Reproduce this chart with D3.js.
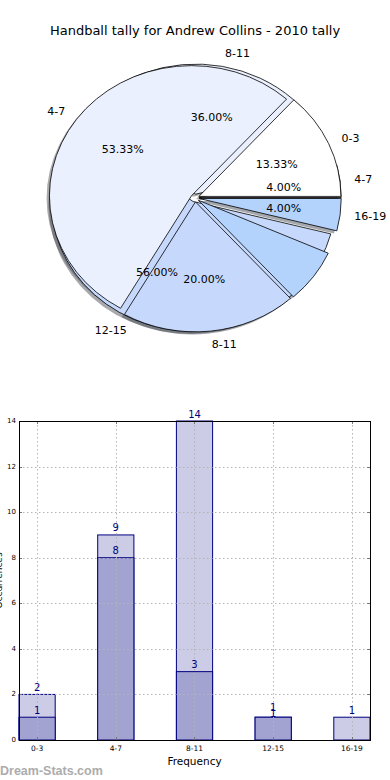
<!DOCTYPE html>
<html>
<head>
<meta charset="utf-8">
<script src="https://cdn.jsdelivr.net/npm/d3@7"></script>
<style>
  body { margin: 0; background: #fff; }
  svg { display: block; font-family: 'DejaVu Sans', sans-serif; }
</style>
</head>
<body>
<svg id="chart" width="390" height="780"></svg>
<script>
// pie data: two pies drawn on top of each other (the second one is partial)
const pieALabels = ['4-7', '8-11', '12-15', '16-19']
const pieAValues = [1, 9, 14, 1]
const pieATotal = 25
const pieBLabels = ['0-3', '4-7', '8-11', '']
const pieBValues = [2, 8, 3, 1]
const pieBTotal = 15
const pieColors = ['#ffffff', '#eaf0fd', '#c6d9fd', '#b3d3fd']

// bar data
const barCats = ['0-3', '4-7', '8-11', '12-15', '16-19']
const lightVals = [2, 9, 14, 1, 1]
const darkVals = [1, 8, 3, 1, 0]
const yTicks = [0, 2, 4, 6, 8, 10, 12, 14]

const svg = d3.select('#chart')

svg.append('text')
  .attr('x', 195).attr('y', 30)
  .attr('text-anchor', 'middle')
  .attr('dominant-baseline', 'central')
  .style('font-size', '13px')
  .text('Handball tally for Andrew Collins - 2010 tally')

// ---- pie ----
const cx = 195, cy = 198, rx = 142, ry = 130
const explode = 0.03
const arc = d3.arc().innerRadius(0).outerRadius(1)

function layout(values, total, labels) {
  const sum = d3.sum(values)
  const pie = d3.pie().sort(null).value(d => d)
    .startAngle(Math.PI / 2)
    .endAngle(Math.PI / 2 - 2 * Math.PI * sum / total)
  return pie(values).map((a, i) => {
    const mid = (a.startAngle + a.endAngle) / 2
    return {
      arc: a,
      mid: mid,
      ox: explode * Math.sin(mid),
      oy: -explode * Math.cos(mid),
      color: pieColors[i],
      label: labels[i],
      pct: (values[i] / total * 100).toFixed(2) + '%'
    }
  })
}

const sliceA = layout(pieAValues, pieATotal, pieALabels)
const sliceB = layout(pieBValues, pieBTotal, pieBLabels)
const allSlices = sliceA.concat(sliceB)

const pieG = svg.append('g').attr('transform', `translate(${cx},${cy}) scale(${rx},${ry})`)

// shadows first, under every wedge
pieG.selectAll('.shadow')
  .data(allSlices)
  .enter()
  .append('path')
  .attr('class', 'shadow')
  .attr('d', d => arc(d.arc))
  .attr('transform', d => `translate(${d.ox - 0.02},${d.oy + 0.02})`)
  .attr('fill', d => {
    const c = d3.rgb(d.color)
    return d3.rgb(c.r * 0.3, c.g * 0.3, c.b * 0.3)
  })
  .attr('fill-opacity', 0.45)
  .attr('stroke', 'none')

pieG.selectAll('.wedge')
  .data(allSlices)
  .enter()
  .append('path')
  .attr('class', 'wedge')
  .attr('d', d => arc(d.arc))
  .attr('transform', d => `translate(${d.ox},${d.oy})`)
  .attr('fill', d => d.color)
  .attr('stroke', '#000')
  .attr('stroke-width', 0.8)
  .attr('stroke-linejoin', 'round')
  .attr('vector-effect', 'non-scaling-stroke')

const textSlices = allSlices.filter(d => d.label !== '')

svg.selectAll('.plabel')
  .data(textSlices)
  .enter()
  .append('text')
  .attr('class', 'plabel')
  .attr('x', d => cx + rx * (d.ox + 1.1 * Math.sin(d.mid)))
  .attr('y', d => cy + ry * (d.oy - 1.1 * Math.cos(d.mid)))
  .attr('text-anchor', d => Math.sin(d.mid) > 0 ? 'start' : 'end')
  .attr('dominant-baseline', 'central')
  .style('font-size', '11px')
  .text(d => d.label)

svg.selectAll('.pct')
  .data(textSlices)
  .enter()
  .append('text')
  .attr('class', 'pct')
  .attr('x', d => cx + rx * (d.ox + 0.6 * Math.sin(d.mid)))
  .attr('y', d => cy + ry * (d.oy - 0.6 * Math.cos(d.mid)))
  .attr('text-anchor', 'middle')
  .attr('dominant-baseline', 'central')
  .style('font-size', '11px')
  .text(d => d.pct)

// ---- bars ----
const plotL = 19, plotR = 370, plotT = 421, plotB = 740
const x = d3.scaleLinear().domain([-0.23, 4.23]).range([plotL, plotR])
const y = d3.scaleLinear().domain([0, 14]).range([plotB, plotT])
const bw = x(0.23) - x(-0.23)

const barG = svg.append('g')

barG.selectAll('.light')
  .data(lightVals)
  .enter()
  .append('rect')
  .attr('x', (d, i) => x(i) - bw / 2)
  .attr('y', d => y(d))
  .attr('width', bw)
  .attr('height', d => y(0) - y(d))
  .attr('fill', '#ccccE6')
  .attr('stroke', '#000080')
  .attr('stroke-width', 1)

barG.selectAll('.dark')
  .data(darkVals)
  .enter()
  .append('rect')
  .attr('x', (d, i) => x(i) - bw / 2)
  .attr('y', d => y(d))
  .attr('width', bw)
  .attr('height', d => y(0) - y(d))
  .attr('fill', '#a3a3d1')
  .attr('stroke', d => d > 0 ? '#000080' : 'none')
  .attr('stroke-width', 1)

// grid
const grid = svg.append('g')
  .attr('stroke', '#b4b4b4')
  .attr('stroke-width', 1)
  .attr('stroke-dasharray', '1.5,2.5')
grid.selectAll('.hg')
  .data(yTicks.slice(1, -1))
  .enter()
  .append('line')
  .attr('x1', plotL).attr('x2', plotR)
  .attr('y1', d => Math.round(y(d)) + 0.5).attr('y2', d => Math.round(y(d)) + 0.5)
grid.selectAll('.vg')
  .data(barCats)
  .enter()
  .append('line')
  .attr('x1', (d, i) => Math.round(x(i)) + 0.5).attr('x2', (d, i) => Math.round(x(i)) + 0.5)
  .attr('y1', plotT).attr('y2', plotB)

// ticks (inward, all four sides)
const ticks = svg.append('g').attr('stroke', '#777').attr('stroke-width', 1)
yTicks.forEach(t => {
  const yy = Math.round(y(t)) + 0.5
  ticks.append('line').attr('x1', plotL).attr('x2', plotL + 3).attr('y1', yy).attr('y2', yy)
  ticks.append('line').attr('x1', plotR - 3).attr('x2', plotR).attr('y1', yy).attr('y2', yy)
})
barCats.forEach((c, i) => {
  const xx = Math.round(x(i)) + 0.5
  ticks.append('line').attr('x1', xx).attr('x2', xx).attr('y1', plotB).attr('y2', plotB - 3)
  ticks.append('line').attr('x1', xx).attr('x2', xx).attr('y1', plotT).attr('y2', plotT + 3)
})

// frame
svg.append('rect')
  .attr('x', plotL + 0.5).attr('y', plotT + 0.5)
  .attr('width', plotR - plotL).attr('height', plotB - plotT)
  .attr('fill', 'none')
  .attr('stroke', '#000')
  .attr('stroke-width', 1)

// value labels
function labelY(v, other, isLight) {
  if (v === other) return y(v) - (isLight ? 10 : 4)
  return y(v) - 7
}
svg.selectAll('.lv')
  .data(lightVals)
  .enter()
  .append('text')
  .attr('x', (d, i) => x(i))
  .attr('y', (d, i) => labelY(d, darkVals[i], true))
  .attr('text-anchor', 'middle')
  .attr('dominant-baseline', 'central')
  .attr('fill', '#000080')
  .style('font-size', '10px')
  .text(d => d)

darkVals.forEach((d, i) => {
  if (d === 0) return
  svg.append('text')
    .attr('x', x(i))
    .attr('y', labelY(d, lightVals[i], false))
    .attr('text-anchor', 'middle')
    .attr('dominant-baseline', 'central')
    .attr('fill', '#000080')
    .style('font-size', '10px')
    .text(d)
})

// axis tick labels
svg.selectAll('.yt')
  .data(yTicks)
  .enter()
  .append('text')
  .attr('x', plotL - 3)
  .attr('y', d => y(d))
  .attr('text-anchor', 'end')
  .attr('dominant-baseline', 'central')
  .style('font-size', '7px')
  .text(d => d)
svg.selectAll('.xt')
  .data(barCats)
  .enter()
  .append('text')
  .attr('x', (d, i) => x(i))
  .attr('y', plotB + 8)
  .attr('text-anchor', 'middle')
  .attr('dominant-baseline', 'central')
  .style('font-size', '7.5px')
  .text(d => d)

svg.append('text')
  .attr('x', (plotL + plotR) / 2).attr('y', 761)
  .attr('text-anchor', 'middle')
  .attr('dominant-baseline', 'central')
  .style('font-size', '10.5px')
  .text('Frequency')

svg.append('text')
  .attr('transform', `translate(-1,${(plotT + plotB) / 2}) rotate(-90)`)
  .attr('text-anchor', 'middle')
  .attr('dominant-baseline', 'central')
  .style('font-size', '9px')
  .text('Occurrences')

svg.append('text')
  .attr('x', 0).attr('y', 771)
  .attr('dominant-baseline', 'central')
  .attr('fill', '#acacac')
  .style('font-family', "'Liberation Sans', Arial, sans-serif")
  .style('font-weight', 'bold')
  .style('font-size', '12.5px')
  .text('Dream-Stats.com')
</script>
</body>
</html>
